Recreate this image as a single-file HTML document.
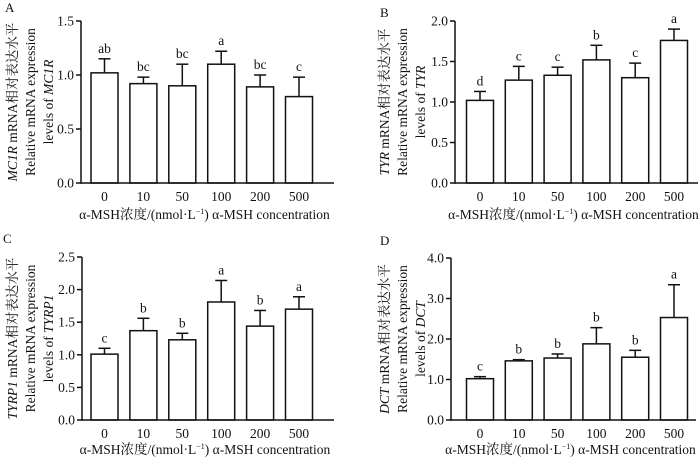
<!DOCTYPE html>
<html><head><meta charset="utf-8"><style>
body{margin:0;background:#fff}
svg text{font-family:"Liberation Serif","Noto Serif CJK SC",serif;fill:#111}
</style></head><body>
<svg id="fig" width="700" height="457" viewBox="0 0 700 457"></svg>
<script>
const categories=["0","10","50","100","200","500"];
const meansA=[1.02,0.92,0.90,1.10,0.89,0.80];
const errA=[1.15,0.98,1.10,1.22,1.00,0.98];
const lettersA=["ab","bc","bc","a","bc","c"];
const ticksA=["0.0","0.5","1.0","1.5"];
const meansB=[1.02,1.27,1.33,1.52,1.30,1.76];
const errB=[1.13,1.44,1.43,1.70,1.48,1.90];
const lettersB=["d","c","c","b","c","a"];
const ticksB=["0.0","0.5","1.0","1.5","2.0"];
const meansC=[1.01,1.37,1.23,1.81,1.44,1.70];
const errC=[1.10,1.56,1.33,2.14,1.68,1.89];
const lettersC=["c","b","b","a","b","a"];
const ticksC=["0.0","0.5","1.0","1.5","2.0","2.5"];
const meansD=[1.02,1.46,1.53,1.88,1.55,2.53];
const errD=[1.07,1.49,1.63,2.28,1.72,3.34];
const lettersD=["c","b","b","b","b","a"];
const ticksD=["0.0","1.0","2.0","3.0","4.0"];

const NS="http://www.w3.org/2000/svg";
const svg=document.getElementById('fig');
function mk(tag,attrs,parent,txt){const e=document.createElementNS(NS,tag);for(const k in attrs)e.setAttribute(k,attrs[k]);if(txt!==undefined)e.textContent=txt;parent.appendChild(e);return e;}

function panel(cfg){
  const g=mk('g',{},svg);
  
  
  const ymax=parseFloat(cfg.ticks[cfg.ticks.length-1]);
  const y=v=>cfg.y0-(v/ymax)*(cfg.y0-cfg.y1);
  const x=i=>cfg.c0+i*cfg.step;
  const pl=mk('text',{x:cfg.lx,y:cfg.ly,'font-size':13},g,cfg.letter);
  
  
  categories.forEach((c,i)=>{
    const cx=x(i),top=y(cfg.means[i]),et=y(cfg.err[i]);
    mk('line',{x1:cx,x2:cx,y1:top,y2:et,stroke:'#111','stroke-width':1.5},g);
    mk('line',{x1:cx-6,x2:cx+6,y1:et,y2:et,stroke:'#111','stroke-width':1.5},g);
    const b=mk('rect',{x:cx-13.5,y:top,width:27,height:cfg.y0-top,fill:'#fff',stroke:'#111','stroke-width':1.5},g);
    
    
    const l=mk('text',{x:cx,y:et-6,'font-size':13.5,'text-anchor':'middle'},g,cfg.letters[i]);
    
    
    const t=mk('text',{x:cx,y:cfg.y0+18,'font-size':13.5,'text-anchor':'middle'},g,c);
    
    
  });
  mk('line',{x1:cfg.ax,x2:cfg.ax,y1:cfg.y1,y2:cfg.y0+0.75,stroke:'#111','stroke-width':1.5},g);
  mk('line',{x1:cfg.ax,x2:cfg.xe,y1:cfg.y0,y2:cfg.y0,stroke:'#111','stroke-width':1.5},g);
  cfg.ticks.forEach(tk=>{
    const ty=y(parseFloat(tk));
    mk('line',{x1:cfg.ax-5,x2:cfg.ax,y1:ty,y2:ty,stroke:'#111','stroke-width':1.5},g);
    const t=mk('text',{x:cfg.ax-7,y:ty+4.5,'font-size':13.5,'text-anchor':'end'},g,tk);
    
    
  });
  const xt=mk('text',{x:(cfg.ax+cfg.xe)/2-3,y:cfg.y0+cfg.xto,'font-size':13.5,'text-anchor':'middle'},g);
  
  
  xt.innerHTML='α-MSH浓度/(nmol·L<tspan dy="-5" font-size="8">−1</tspan><tspan dy="5">)  α-MSH concentration</tspan>';
  const my=(cfg.y0+cfg.y1)/2;
  const yt=mk('text',{transform:`translate(${cfg.tx},${my}) rotate(-90)`,'font-size':13.5,'text-anchor':'middle'},g);
  
  
  yt.innerHTML=`<tspan x="0" dy="0"><tspan font-style="italic">${cfg.gene}</tspan> mRNA相对表达水平</tspan><tspan x="0" dy="18">Relative mRNA expression</tspan><tspan x="0" dy="18">levels of <tspan font-style="italic">${cfg.gene}</tspan></tspan>`;
}
panel({letter:'A',lx:5,ly:12,ax:81,xe:334,y0:183,y1:21,c0:104.5,step:38.9,ticks:ticksA,means:meansA,err:errA,letters:lettersA,gene:'MC1R',tx:17,xto:36});
panel({letter:'B',lx:380,ly:17,ax:455,xe:698,y0:183,y1:21,c0:480,step:38.8,ticks:ticksB,means:meansB,err:errB,letters:lettersB,gene:'TYR',tx:389,xto:36});
panel({letter:'C',lx:3,ly:243,ax:82,xe:334,y0:420,y1:257,c0:104.5,step:38.9,ticks:ticksC,means:meansC,err:errC,letters:lettersC,gene:'TYRP1',tx:17,xto:34});
panel({letter:'D',lx:380,ly:245,ax:451,xe:696,y0:420,y1:258,c0:480,step:38.8,ticks:ticksD,means:meansD,err:errD,letters:lettersD,gene:'DCT',tx:389,xto:34});
</script>
</body></html>
